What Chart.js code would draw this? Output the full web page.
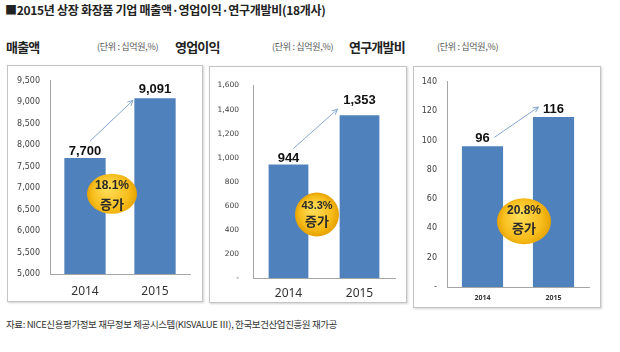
<!DOCTYPE html>
<html>
<head>
<meta charset="utf-8">
<script src="https://cdn.jsdelivr.net/npm/chart.js@4"></script>
<style>
  body { margin: 0; background: #fff; width: 620px; height: 352px; position: relative; overflow: hidden;
         font-family: "Noto Sans CJK KR", "Noto Sans", sans-serif; color: #222; }
  .abs { position: absolute; white-space: nowrap; }
  .title { left: 5px; top: 1px; font-size: 12px; font-weight: bold; letter-spacing: -0.3px; }
  .sub { top: 37px; font-size: 13px; font-weight: bold; letter-spacing: -0.8px; }
  .unit { top: 40px; font-size: 9px; color: #555; letter-spacing: -0.3px; }
  .box { border: 1px solid #c4c4c4; box-shadow: 1px 1px 2px rgba(0,0,0,0.18); }
  .src { left: 6px; top: 317px; font-size: 9.5px; color: #333; letter-spacing: -0.4px; }
  canvas { position: absolute; }
</style>
</head>
<body>
<div class="abs title">■2015년 상장 화장품 기업 매출액·영업이익·연구개발비(18개사)</div>

<div class="abs sub" style="left:6px">매출액</div>
<div class="abs unit" style="left:97px">(단위 : 십억원,%)</div>
<div class="abs sub" style="left:175px">영업이익</div>
<div class="abs unit" style="left:272px">(단위 : 십억원,%)</div>
<div class="abs sub" style="left:349px">연구개발비</div>
<div class="abs unit" style="left:437px">(단위 : 십억원,%)</div>

<div class="abs box" style="left:7px;top:65px;width:194px;height:235px"></div>
<div class="abs box" style="left:209px;top:66px;width:196px;height:235px"></div>
<div class="abs box" style="left:413px;top:66px;width:186px;height:240px"></div>

<canvas id="sales" width="194" height="235" style="left:8px;top:66px"></canvas>
<canvas id="profit" width="195" height="235" style="left:211px;top:67px"></canvas>
<canvas id="rnd" width="185" height="240" style="left:414px;top:67px"></canvas>

<div class="abs src">자료: NICE신용평가정보 재무정보 제공시스템(KISVALUE Ⅲ), 한국보건산업진흥원 재가공</div>

<script>
const years = ["2014", "2015"];
const salesValues = [7700, 9091];
const profitValues = [944, 1353];
const rndValues = [96, 116];

const salesTicks = ["5,000", "5,500", "6,000", "6,500", "7,000", "7,500", "8,000", "8,500", "9,000", "9,500"];
const profitTicks = ["-", "200", "400", "600", "800", "1,000", "1,200", "1,400", "1,600"];
const rndTicks = ["-", "20", "40", "60", "80", "100", "120", "140"];

const growthLabels = ["18.1%", "43.3%", "20.8%"];
const growthWord = "증가";

const BAR = "#4f81bd";

// value labels, arrow and the yellow growth circle
const deco = {
  id: "deco",
  afterDatasetsDraw(chart, args, o) {
    const { ctx, chartArea } = chart;
    const bars = chart.getDatasetMeta(0).data;
    const vals = chart.data.datasets[0].data;
    ctx.save();

    ctx.font = o.labelFont;
    ctx.fillStyle = "#111";
    ctx.textAlign = "center";
    ctx.textBaseline = "middle";
    bars.forEach((b, i) => ctx.fillText(vals[i].toLocaleString("en-US"), b.x, b.y + o.labelDy[i]));

    // arrow
    const x1 = bars[0].x + o.arrow[0], y1 = bars[0].y + o.arrow[1];
    const x2 = bars[1].x + o.arrow[2], y2 = bars[1].y + o.arrow[3];
    ctx.strokeStyle = "#86a6cf";
    ctx.lineWidth = 1;
    ctx.beginPath();
    ctx.moveTo(x1, y1);
    ctx.lineTo(x2, y2);
    ctx.stroke();
    const a = Math.atan2(y2 - y1, x2 - x1);
    ctx.beginPath();
    ctx.moveTo(x2, y2);
    ctx.lineTo(x2 - 6 * Math.cos(a - 0.45), y2 - 6 * Math.sin(a - 0.45));
    ctx.moveTo(x2, y2);
    ctx.lineTo(x2 - 6 * Math.cos(a + 0.45), y2 - 6 * Math.sin(a + 0.45));
    ctx.stroke();

    // circle
    const c = o.circle;
    const cx = (bars[0].x + bars[1].x) / 2 + c.dx;
    const cy = chartArea.top + chartArea.height * c.fy;
    const g = ctx.createRadialGradient(cx - c.rx * 0.2, cy - c.ry * 0.3, 2, cx, cy, Math.max(c.rx, c.ry));
    g.addColorStop(0, "#ffdc55");
    g.addColorStop(0.7, "#f7bd1c");
    g.addColorStop(1, "#e6a200");
    ctx.fillStyle = g;
    ctx.beginPath();
    ctx.ellipse(cx, cy, c.rx, c.ry, 0, 0, Math.PI * 2);
    ctx.fill();

    ctx.fillStyle = "#2a2a2a";
    ctx.font = c.pctFont;
    ctx.fillText(c.text, cx, cy + c.t1);
    ctx.font = c.wordFont;
    ctx.fillText(growthWord, cx, cy + c.t2);
    ctx.restore();
  }
};

function makeChart(id, values, ticks, min, max, step, s) {
  return new Chart(document.getElementById(id), {
    type: "bar",
    data: {
      labels: years,
      datasets: [{
        data: values,
        backgroundColor: BAR,
        borderWidth: 0,
        categoryPercentage: 1,
        barPercentage: s.barPct
      }]
    },
    options: {
      responsive: false,
      animation: false,
      devicePixelRatio: 1,
      layout: { padding: { left: 0, right: s.padRight, top: s.padTop, bottom: 0 } },
      plugins: {
        legend: { display: false },
        tooltip: { enabled: false },
        deco: s.deco
      },
      scales: {
        x: {
          grid: { display: false, drawTicks: false },
          border: { display: true, color: "#a6a6a6" },
          ticks: { color: "#333", font: s.xFont, padding: s.xPad },
          afterFit: (sc) => { sc.height = s.xHeight; }
        },
        y: {
          min: min,
          max: max,
          grid: { display: false, drawTicks: false },
          border: { display: true, color: "#a6a6a6" },
          ticks: {
            stepSize: step,
            color: "#404040",
            font: s.yFont,
            padding: s.yPad,
            callback: (v, i) => ticks[i]
          },
          afterFit: (sc) => { sc.width = s.yWidth; }
        }
      }
    },
    plugins: [deco]
  });
}

makeChart("sales", salesValues, salesTicks, 5000, 9500, 500, {
  barPct: 0.59, padRight: 12, padTop: 13, xHeight: 27, yWidth: 42, xPad: 10, yPad: 10,
  xFont: { family: "Noto Sans", size: 12 },
  yFont: { family: "DejaVu Sans", size: 8 },
  deco: {
    labelFont: "bold 13px 'Liberation Sans'", labelDy: [-7, -9],
    arrow: [5, -17, -22, 2],
    circle: { dx: -8, fy: 0.585, rx: 25, ry: 20, text: growthLabels[0], t1: -8, t2: 10,
      pctFont: "bold 12px 'Liberation Sans'", wordFont: "bold 13px 'Noto Sans CJK KR'" }
  }
});

makeChart("profit", profitValues, profitTicks, 0, 1600, 200, {
  barPct: 0.56, padRight: 11, padTop: 10, xHeight: 24, yWidth: 42, xPad: 8, yPad: 14,
  xFont: { family: "Noto Sans", size: 12 },
  yFont: { family: "DejaVu Sans", size: 7.5 },
  deco: {
    labelFont: "bold 13px 'Liberation Sans'", labelDy: [-6, -15],
    arrow: [5, -16, -22, -6],
    circle: { dx: -7, fy: 0.67, rx: 22, ry: 22, text: growthLabels[1], t1: -9, t2: 7,
      pctFont: "bold 11px 'Liberation Sans'", wordFont: "bold 13px 'Noto Sans CJK KR'" }
  }
});

makeChart("rnd", rndValues, rndTicks, 0, 140, 20, {
  barPct: 0.58, padRight: 10, padTop: 9, xHeight: 20, yWidth: 33, xPad: 7, yPad: 10,
  xFont: { family: "Noto Sans", size: 7, weight: "bold" },
  yFont: { family: "DejaVu Sans", size: 8 },
  deco: {
    labelFont: "bold 13px 'Liberation Sans'", labelDy: [-8, -8],
    arrow: [12, -9, -15, -10],
    circle: { dx: 6, fy: 0.68, rx: 27, ry: 23, text: growthLabels[2], t1: -11, t2: 7,
      pctFont: "bold 12px 'Liberation Sans'", wordFont: "bold 13px 'Noto Sans CJK KR'" }
  }
});
</script>
</body>
</html>
